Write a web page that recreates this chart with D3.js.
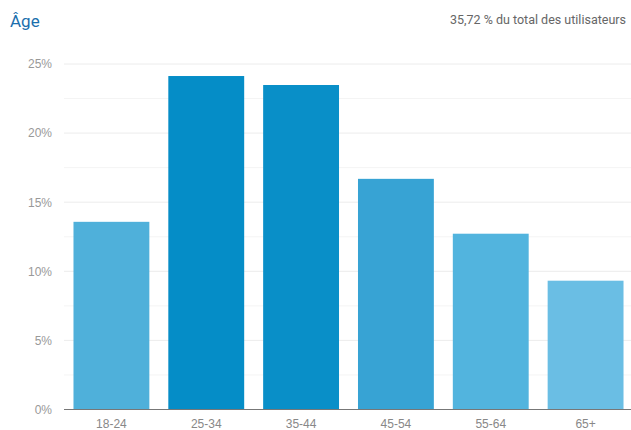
<!DOCTYPE html>
<html>
<head>
<meta charset="utf-8">
<script src="https://d3js.org/d3.v7.min.js"></script>
<style>
  body { margin: 0; background: #fff; }
  svg { display: block; }
  .y text { font-family: "Liberation Sans", Arial, sans-serif; font-size: 12px; fill: #999; }
  .x text { font-family: "Liberation Sans", Arial, sans-serif; font-size: 12px; fill: #888; }
</style>
</head>
<body>
<script>
// age buckets and share of users (%)
const ages = ["18-24", "25-34", "35-44", "45-54", "55-64", "65+"];
const shares = [13.58, 24.13, 23.48, 16.69, 12.72, 9.32];
const barColors = ["#4fb0da", "#058dc7", "#098fc8", "#37a3d4", "#52b4de", "#6abee4"];
const yTicks = [0, 5, 10, 15, 20, 25];

const width = 631, height = 430;
const margin = {top: 64, right: -2, bottom: 20, left: 64};

const svg = d3.select("body").append("svg")
    .attr("width", width)
    .attr("height", height);

svg.append("text")
    .attr("x", 10).attr("y", 27)
    .style("font-family", "Roboto, sans-serif")
    .style("font-size", "17px")
    .style("fill", "#1b6fad")
    .text("Âge");

svg.append("text")
    .attr("x", 626).attr("y", 24)
    .attr("text-anchor", "end")
    .style("font-family", "Roboto, sans-serif")
    .style("font-size", "12.5px")
    .style("fill", "#666")
    .text("35,72 % du total des utilisateurs");

const x = d3.scaleBand()
    .domain(ages)
    .range([margin.left, width - margin.right])
    .paddingInner(0.2)
    .paddingOuter(0.1);

const y = d3.scaleLinear()
    .domain([0, 25])
    .range([409.5, margin.top]);

// minor gridlines every 2.5%
svg.append("g")
  .selectAll("line")
  .data(d3.range(2.5, 25, 5))
  .join("line")
    .attr("x1", margin.left).attr("x2", width)
    .attr("y1", d => y(d)).attr("y2", d => y(d))
    .attr("stroke", "#f4f4f4");

const yAxis = d3.axisLeft(y)
    .tickValues(yTicks)
    .tickSize(0)
    .tickPadding(12)
    .tickFormat(d => d + "%");

const gy = svg.append("g")
    .attr("class", "y")
    .attr("transform", `translate(${margin.left},0)`)
    .call(yAxis);
gy.select(".domain").remove();

svg.append("g")
  .selectAll("line")
  .data(yTicks.filter(d => d > 0))
  .join("line")
    .attr("x1", margin.left).attr("x2", width)
    .attr("y1", d => y(d)).attr("y2", d => y(d))
    .attr("stroke", "#ececec");

svg.append("g")
  .selectAll("rect")
  .data(ages)
  .join("rect")
    .attr("x", d => x(d))
    .attr("width", x.bandwidth())
    .attr("y", (d, i) => y(shares[i]))
    .attr("height", (d, i) => y(0) - y(shares[i]))
    .attr("fill", (d, i) => barColors[i]);

svg.append("line")
    .attr("x1", margin.left).attr("x2", width)
    .attr("y1", y(0)).attr("y2", y(0))
    .attr("stroke", "#777");

const gx = svg.append("g")
    .attr("class", "x")
    .attr("transform", `translate(0,${y(0)})`)
    .call(d3.axisBottom(x).tickSize(0).tickPadding(10));
gx.select(".domain").remove();
</script>
</body>
</html>
